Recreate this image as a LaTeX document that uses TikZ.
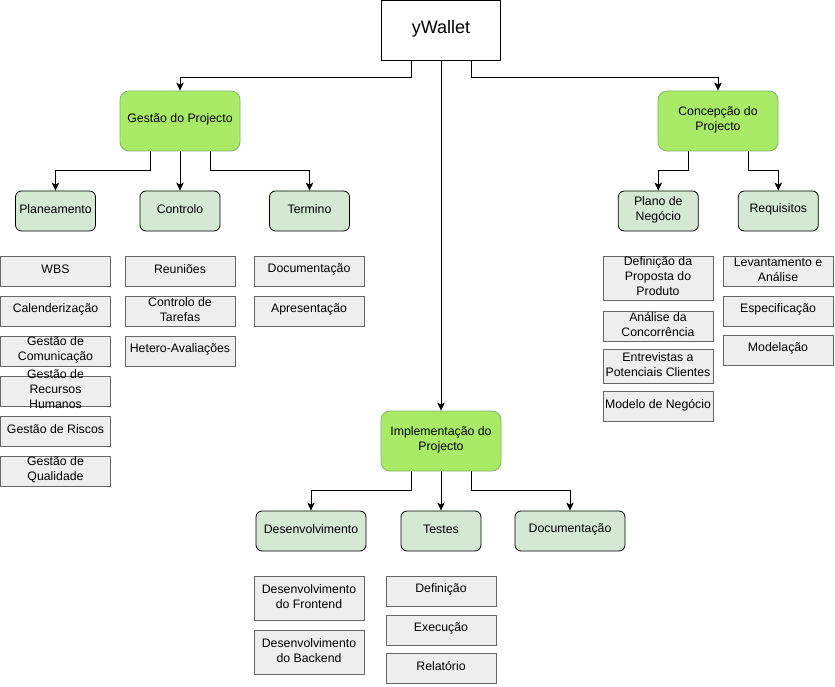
\documentclass[tikz,border=0pt]{standalone}
\usepackage{fontspec}
\setmainfont{Liberation Sans}
\usetikzlibrary{arrows.meta}
\definecolor{gmain}{RGB}{169,234,103}
\definecolor{gmainline}{RGB}{130,179,102}
\definecolor{glight}{RGB}{213,232,212}
\definecolor{gfill}{RGB}{238,238,238}
\definecolor{gline}{RGB}{102,102,102}
\begin{document}
\begin{tikzpicture}[x=1pt,y=-1pt,
  every node/.style={font=\fontsize{12.3}{15}\selectfont, align=center, inner sep=0pt},
  every label/.style={yshift=1.5pt},
  rootbox/.style={draw=black, line width=0.8pt, fill=white, minimum width=119pt, minimum height=60pt},
  mainbox/.style={draw=gmainline, line width=0.8pt, fill=gmain, rounded corners=9pt, minimum width=120pt, minimum height=60pt},
  subbox/.style={draw=black, line width=0.8pt, fill=glight, rounded corners=6pt, minimum width=80pt, minimum height=40pt},
  leafbox/.style={draw=gline, line width=0.8pt, fill=gfill, minimum width=110pt, minimum height=30pt},
  arr/.style={draw=black, line width=1pt, -{Stealth[length=8pt,width=7.5pt,inset=2pt]}},
]
\useasboundingbox (0,0) rectangle (835,687);

% root
\node[rootbox, label={[font=\fontsize{18}{22}\selectfont]center:yWallet}] (yw) at (441,30.5) {};

% main boxes
\node[mainbox, label={center:Gestão do Projecto}] (gp) at (180,121) {};
\node[mainbox, label={center:Concepção do\\Projecto}] (cp) at (718,121) {};
\node[mainbox, label={center:Implementação do\\Projecto}] (ip) at (441,441) {};

% second level
\node[subbox, label={center:Planeamento}] (plan) at (55.5,211) {};
\node[subbox, label={center:Controlo}] (ctrl) at (180,211) {};
\node[subbox, label={center:Termino}] (term) at (309.5,211) {};
\node[subbox, label={center:Plano de\\Negócio}] (pneg) at (658.3,211) {};
\node[subbox, label={center:Requisitos}] (req) at (778.3,211) {};
\node[subbox, minimum width=110pt, label={center:Desenvolvimento}] (dev) at (311,531) {};
\node[subbox, label={center:Testes}] (test) at (441,531) {};
\node[subbox, minimum width=110pt, label={center:Documentação}] (docu) at (570,531) {};

% leaves: Planeamento
\node[leafbox, label={center:WBS}] (wbs) at (55.5,271) {};
\node[leafbox, label={center:Calenderização}] (cal) at (55.5,311) {};
\node[leafbox, label={center:Gestão de\\Comunicação}] (gcom) at (55.5,351) {};
\node[leafbox, label={center:Gestão de\\Recursos\\Humanos}] (grh) at (55.5,391) {};
\node[leafbox, label={center:Gestão de Riscos}] (gris) at (55.5,431) {};
\node[leafbox, label={center:Gestão de\\Qualidade}] (gqual) at (55.5,471) {};

% leaves: Controlo
\node[leafbox, label={center:Reuniões}] (reun) at (180,271) {};
\node[leafbox, label={center:Controlo de\\Tarefas}] (ctar) at (180,311) {};
\node[leafbox, label={center:Hetero-Avaliações}] (het) at (180,351) {};

% leaves: Termino
\node[leafbox, label={center:Documentação}] (tdoc) at (309,271) {};
\node[leafbox, label={center:Apresentação}] (tapr) at (309,311) {};

% leaves: Plano de Negocio
\node[leafbox, minimum height=44pt, label={center:Definição da\\Proposta do\\Produto}] (defp) at (658,278) {};
\node[leafbox, label={center:Análise da\\Concorrência}] (anc) at (658,326) {};
\node[leafbox, minimum height=34pt, label={center:Entrevistas a\\Potenciais Clientes}] (entr) at (658,366) {};
\node[leafbox, label={center:Modelo de Negócio}] (mneg) at (658,406.5) {};

% leaves: Requisitos
\node[leafbox, label={center:Levantamento e\\Análise}] (lev) at (778,271) {};
\node[leafbox, label={center:Especificação}] (esp) at (778,311) {};
\node[leafbox, label={center:Modelação}] (mod) at (778,350) {};

% leaves: Desenvolvimento
\node[leafbox, minimum height=44pt, label={center:Desenvolvimento\\do Frontend}] (dfr) at (309,598) {};
\node[leafbox, minimum height=44pt, label={center:Desenvolvimento\\do Backend}] (dbk) at (309,652) {};

% leaves: Testes
\node[leafbox, label={center:Definição}] (tdef) at (441,591) {};
\node[leafbox, label={center:Execução}] (texe) at (441,630) {};
\node[leafbox, label={center:Relatório}] (trel) at (441,668) {};

% connectors
\draw[arr] ([xshift=-30pt]yw.south) -- ++(0,16.5) -| (gp.north);
\draw[arr] (yw.south) -- (ip.north);
\draw[arr] ([xshift=30pt]yw.south) -- ++(0,16.5) -| (cp.north);

\draw[arr] ([xshift=-30pt]gp.south) -- ++(0,19.5) -| (plan.north);
\draw[arr] (gp.south) -- (ctrl.north);
\draw[arr] ([xshift=30pt]gp.south) -- ++(0,19.5) -| (term.north);

\draw[arr] ([xshift=-30pt]cp.south) -- ++(0,19.5) -| (pneg.north);
\draw[arr] ([xshift=30pt]cp.south) -- ++(0,19.5) -| (req.north);

\draw[arr] ([xshift=-30pt]ip.south) -- ++(0,19.5) -| (dev.north);
\draw[arr] (ip.south) -- (test.north);
\draw[arr] ([xshift=30pt]ip.south) -- ++(0,19.5) -| (docu.north);
\end{tikzpicture}
\end{document}
